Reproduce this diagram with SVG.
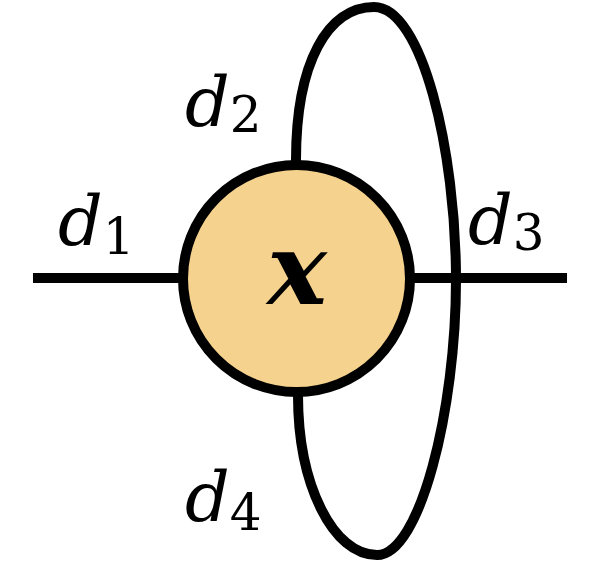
<svg xmlns="http://www.w3.org/2000/svg" width="591" height="563" viewBox="0 0 591 563">
<style>
.ln{fill:none;stroke:#000;stroke-width:10}
.lb{font-family:"DejaVu Serif","Liberation Serif",serif;font-style:italic;fill:#000}
.d{font-size:70px}
.s{font-size:50px;font-style:normal}
</style>
<rect width="591" height="563" fill="#fff"/>
<g id="connectors">
<line class="ln" x1="33" y1="278" x2="567" y2="278"/>
<path class="ln" d="M296 278 L296 160 C296 62 328 7 374 7 C422 7 456 150 456 280 C456 410 420 555 377 555 C333 555 298 485 298 395 L298 278"/>
</g>
<g id="node-x">
<circle cx="296.5" cy="278.5" r="113.5" fill="#F5D28E" stroke="#000" stroke-width="10"/>
<text class="lb" x="297" y="304" font-size="100" font-weight="bold" text-anchor="middle">x</text>
</g>
<g id="labels">
<text class="lb" x="58" y="245"><tspan class="d">d</tspan><tspan class="s" dy="9">1</tspan></text>
<text class="lb" x="185" y="126"><tspan class="d">d</tspan><tspan class="s" dy="6">2</tspan></text>
<text class="lb" x="468" y="244"><tspan class="d">d</tspan><tspan class="s" dy="6">3</tspan></text>
<text class="lb" x="185" y="521"><tspan class="d">d</tspan><tspan class="s" dy="9">4</tspan></text>
</g>
</svg>
